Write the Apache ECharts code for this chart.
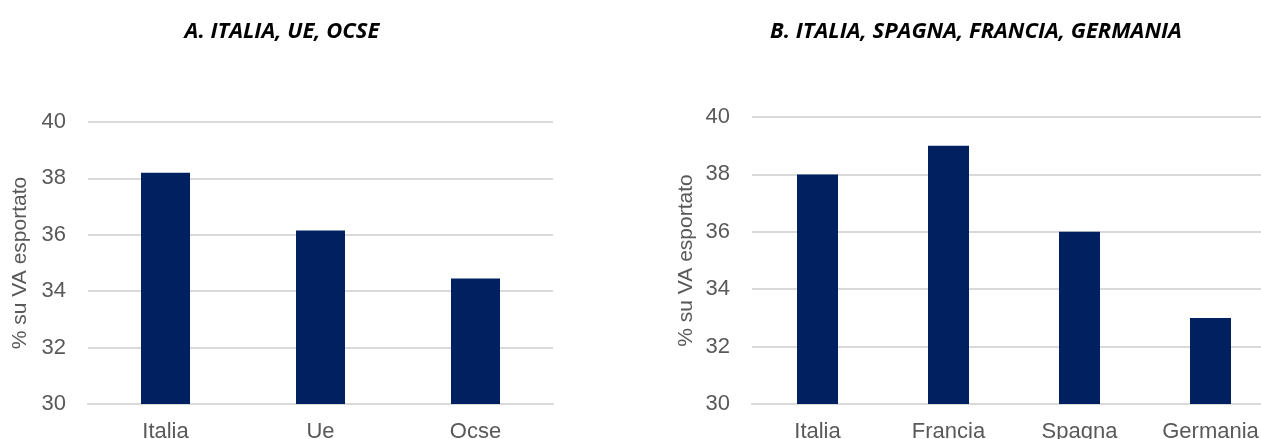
<!DOCTYPE html>
<html>
<head>
<meta charset="utf-8">
<script src="https://cdn.jsdelivr.net/npm/echarts@6/dist/echarts.min.js"></script>
<style>
  html, body { margin: 0; padding: 0; background: #fff; }
  #chart { width: 1261px; height: 439px; }
</style>
</head>
<body>
<div id="chart"></div>
<script>
const titles = ['A. ITALIA, UE, OCSE', 'B. ITALIA, SPAGNA, FRANCIA, GERMANIA'];
const yName = '% su VA esportato';
const catsA = ['Italia', 'Ue', 'Ocse'];
const valsA = [38.2, 36.15, 34.45];
const catsB = ['Italia', 'Francia', 'Spagna', 'Germania'];
const valsB = [38, 39, 36, 33];

const barColor = '#002060';
const gridColor = '#d9d9d9';
const labelColor = '#595959';
const labelFont = 'Liberation Sans';

function xAxis(gridIndex, data) {
  return {
    type: 'category',
    gridIndex: gridIndex,
    data: data,
    axisLine: { show: true, lineStyle: { color: gridColor, width: 2 } },
    axisTick: { show: false },
    axisLabel: { color: labelColor, fontSize: 22, fontFamily: labelFont, margin: 17 }
  };
}

function yAxis(gridIndex, gap) {
  return {
    type: 'value',
    gridIndex: gridIndex,
    min: 30,
    max: 40,
    interval: 2,
    name: yName,
    nameLocation: 'middle',
    nameGap: gap,
    nameTextStyle: { color: labelColor, fontSize: 21, fontFamily: labelFont },
    axisLine: { show: false },
    axisTick: { show: false },
    axisLabel: { color: labelColor, fontSize: 22, fontFamily: labelFont, margin: 22 },
    splitLine: { lineStyle: { color: gridColor, width: 2 } }
  };
}

const titleStyle = { fontSize: 22, fontWeight: 'bold', fontStyle: 'italic', fontFamily: 'Open Sans', color: '#000' };

const option = {
  animation: false,
  title: [
    { text: titles[0], left: 277, top: 16, textAlign: 'center', textStyle: titleStyle },
    { text: titles[1], left: 971, top: 16, textAlign: 'center', textStyle: titleStyle }
  ],
  grid: [
    { left: 88, top: 122, width: 465, height: 282, outerBoundsMode: 'none' },
    { left: 752, top: 117, width: 524, height: 287, outerBoundsMode: 'none' }
  ],
  xAxis: [xAxis(0, catsA), xAxis(1, catsB)],
  yAxis: [yAxis(0, 57), yAxis(1, 55)],
  series: [
    {
      type: 'bar', xAxisIndex: 0, yAxisIndex: 0, data: valsA,
      barWidth: 49, itemStyle: { color: barColor }
    },
    {
      type: 'bar', xAxisIndex: 1, yAxisIndex: 1, data: valsB,
      barWidth: 41, itemStyle: { color: barColor }
    }
  ]
};

const myChart = echarts.init(document.getElementById('chart'));
myChart.setOption(option);
window.addEventListener('resize', function () {
  myChart.resize();
});
</script>
</body>
</html>
